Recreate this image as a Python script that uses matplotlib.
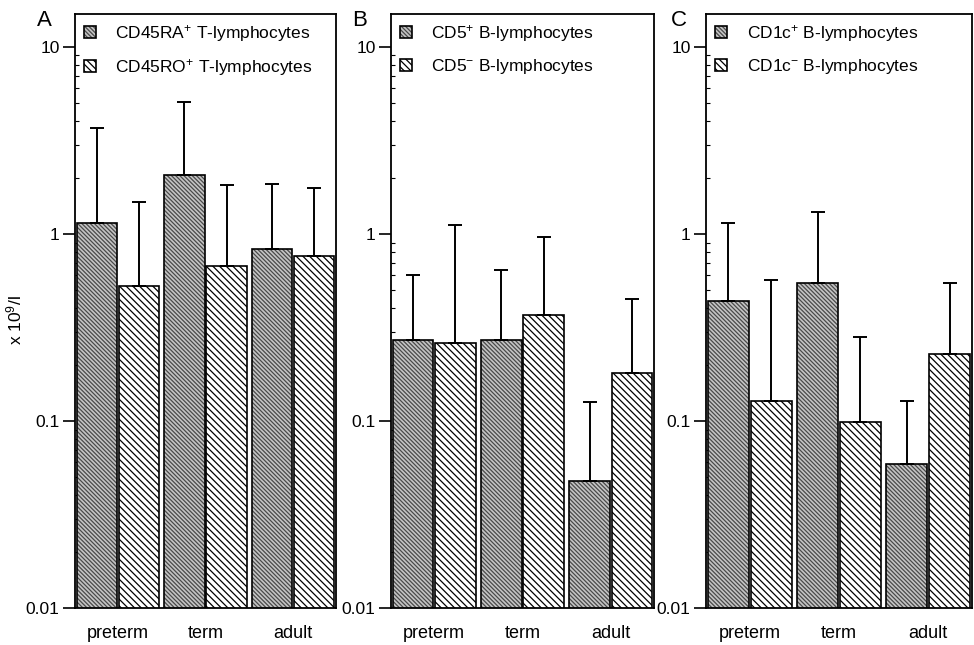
import matplotlib

matplotlib.use("Agg")
import matplotlib.pyplot as plt
import numpy as np
from matplotlib.ticker import FixedLocator, LogLocator, NullFormatter


GROUPS = ["preterm", "term", "adult"]

# panel A: CD45RA+ / CD45RO+ T-lymphocytes (mean and top of error bar, x 10^9/l)
RA_MEAN = [1.15, 2.07, 0.83]
RA_TOP = [3.7, 5.1, 1.85]
RO_MEAN = [0.53, 0.67, 0.76]
RO_TOP = [1.48, 1.83, 1.76]

# panel B: CD5+ / CD5- B-lymphocytes
CD5P_MEAN = [0.27, 0.27, 0.048]
CD5P_TOP = [0.60, 0.64, 0.126]
CD5N_MEAN = [0.26, 0.37, 0.18]
CD5N_TOP = [1.12, 0.96, 0.45]

# panel C: CD1c+ / CD1c- B-lymphocytes
CD1P_MEAN = [0.44, 0.55, 0.059]
CD1P_TOP = [1.15, 1.31, 0.128]
CD1N_MEAN = [0.128, 0.099, 0.227]
CD1N_TOP = [0.57, 0.28, 0.545]

PANELS = [
    ("A", "CD45RA$^{+}$ T-lymphocytes", RA_MEAN, RA_TOP,
     "CD45RO$^{+}$ T-lymphocytes", RO_MEAN, RO_TOP),
    ("B", "CD5$^{+}$ B-lymphocytes", CD5P_MEAN, CD5P_TOP,
     "CD5$^{-}$ B-lymphocytes", CD5N_MEAN, CD5N_TOP),
    ("C", "CD1c$^{+}$ B-lymphocytes", CD1P_MEAN, CD1P_TOP,
     "CD1c$^{-}$ B-lymphocytes", CD1N_MEAN, CD1N_TOP),
]

plt.rcParams["font.family"] = ["Liberation Sans", "DejaVu Sans"]
plt.rcParams["mathtext.fontset"] = "custom"
plt.rcParams["mathtext.rm"] = "Liberation Sans"
plt.rcParams["mathtext.it"] = "Liberation Sans:italic"
plt.rcParams["hatch.linewidth"] = 0.9

W, H = 974, 645
BOXES = [(75, 336), (391, 654), (706, 972)]
TOP, BOTTOM = 14, 608
LETTER_X = [44, 360, 679]


def draw_panel(ax, panel):
    letter, lab1, mean1, top1, lab2, mean2, top2 = panel
    x = np.arange(len(GROUPS))
    bw = 0.46
    off = 0.24
    mean1 = np.array(mean1)
    mean2 = np.array(mean2)
    err1 = np.array(top1) - mean1
    err2 = np.array(top2) - mean2

    # dark bars: grey hatch first, black outline on top
    fill1 = ax.bar(x - off, mean1, bw, color="#c4c4c4", edgecolor="#4a4a4a",
                   hatch="\\" * 8, linewidth=0, zorder=2)
    line1 = ax.bar(x - off, mean1, bw, fill=False, edgecolor="black",
                   linewidth=1.2, zorder=2.1)
    bars2 = ax.bar(x + off, mean2, bw, color="white", edgecolor="black",
                   hatch="\\" * 5, linewidth=1.2, zorder=2)
    ax.errorbar(x - off, mean1, yerr=[np.zeros(3), err1], fmt="none",
                ecolor="black", elinewidth=1.4, capsize=5, capthick=1.4, zorder=3)
    ax.errorbar(x + off, mean2, yerr=[np.zeros(3), err2], fmt="none",
                ecolor="black", elinewidth=1.4, capsize=5, capthick=1.4, zorder=3)

    ax.set_yscale("log")
    ax.set_ylim(0.01, 15)
    ax.set_xlim(-0.49, 2.49)
    ax.yaxis.set_major_locator(FixedLocator([0.01, 0.1, 1, 10]))
    ax.set_yticklabels(["0.01", "0.1", "1", "10"])
    ax.yaxis.set_minor_locator(LogLocator(base=10, subs=np.arange(2, 10)))
    ax.yaxis.set_minor_formatter(NullFormatter())
    ax.tick_params(axis="y", which="major", direction="out", length=9,
                   width=1.2, labelsize=12.5, pad=2)
    ax.tick_params(axis="y", which="minor", direction="in", length=3, width=0.8)
    ax.set_xticks(x)
    ax.set_xticklabels(GROUPS)
    ax.tick_params(axis="x", length=0, labelsize=13, pad=12)
    for s in ax.spines.values():
        s.set_linewidth(1.3)

    ax.legend([(fill1, line1), bars2], [lab1, lab2],
              loc="upper left", bbox_to_anchor=(0.035, 0.985), frameon=False,
              fontsize=12.5, handlelength=0.7, handleheight=0.7,
              handletextpad=1.1, labelspacing=0.75, borderpad=0,
              borderaxespad=0)


def main():
    fig = plt.figure(figsize=(W / 100, H / 100), dpi=100)
    for (l, r), panel, lx in zip(BOXES, PANELS, LETTER_X):
        ax = fig.add_axes([l / W, 1 - BOTTOM / H, (r - l) / W, (BOTTOM - TOP) / H])
        draw_panel(ax, panel)
        fig.text(lx / W, 1 - 20 / H, panel[0], fontsize=16, ha="center", va="center")
    fig.text(14 / W, 1 - 320 / H, "x 10$^{9}$/l", rotation=90, fontsize=12.5,
             ha="center", va="center")
    fig.savefig("out.png", dpi=100)


if __name__ == "__main__":
    main()
